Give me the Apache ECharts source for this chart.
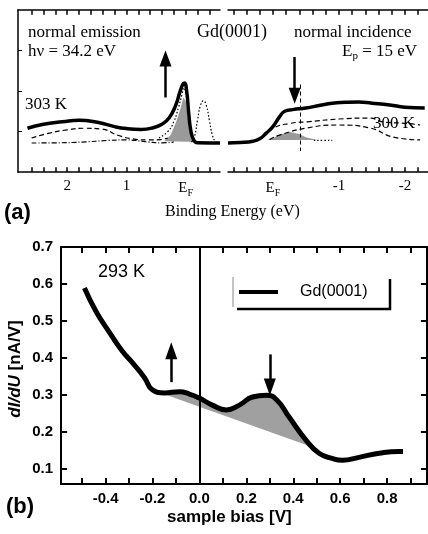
<!DOCTYPE html>
<html>
<head>
<meta charset="utf-8">
<script src="https://cdn.jsdelivr.net/npm/echarts@6/dist/echarts.min.js"></script>
<style>
  html, body { margin: 0; padding: 0; background: #fff; }
  #chart { width: 428px; height: 534px; }
</style>
</head>
<body>
<div id="chart"></div>
<script>
// ---- panel (a): [binding energy (eV), intensity (arb.)] ----
// left half: photoemission
const pe303 = [[2.67,27],[2.4,29.5],[2.08,31],[1.8,32],[1.47,30.5],[1.2,28],[1.0,26.8],[0.75,26.3],[0.55,27.3],
  [0.4,29.5],[0.28,33.3],[0.17,41],[0.1,49],[0.05,54],[0.02,55],[-0.02,49],[-0.05,37],[-0.09,25],[-0.14,19.5],
  [-0.2,18],[-0.42,17.9],[-0.58,17.9]];
const peDash = [[2.6,21],[2.3,24],[2.0,26],[1.7,27],[1.42,26.5],[1.13,22.5],[0.9,20.5],[0.63,19.8],[0.42,20],[0.3,21]];
const peDashDot = [[2.6,17.9],[2.2,18],[1.75,18.5],[1.3,19.5],[1.0,19.8],[0.63,18.5],[0.4,18],[0.2,18.5]];
const peDotEnv = [[0.45,21],[0.3,25],[0.2,31],[0.12,40],[0.06,48],[0.03,52],[0.0,49],[-0.04,40],[-0.08,28],[-0.12,21],[-0.2,18.5]];
const peDotPeak = [[-0.1,18.5],[-0.15,22],[-0.2,32],[-0.25,41],[-0.3,44],[-0.35,41],[-0.4,32],[-0.45,23],[-0.5,19],[-0.55,18]];
const peShade = [[0.36,19],[0.25,23],[0.15,32],[0.08,40],[0.04,46],[0.0,44],[-0.03,35],[-0.06,26],[-0.1,21],[-0.18,19],[-0.25,18.5]];
// right half: inverse photoemission
const ipeThick = [[0.68,17.9],[0.5,18.2],[0.3,19],[0.2,20.5],[0.1,24],[0.0,28],[-0.1,34],[-0.18,37.5],[-0.3,38.5],
  [-0.5,39.5],[-0.7,41],[-0.9,42.5],[-1.1,43],[-1.3,43.2],[-1.5,42.5],[-1.77,41.4],[-2.0,40],[-2.3,39.5]];
const ipe300 = [[0.15,21.6],[0.0,27],[-0.26,30],[-0.52,31],[-1.0,32.7],[-1.47,33.3],[-1.67,30.9],[-2.03,30],[-2.23,29]];
const ipeLow = [[0.05,20],[-0.1,22.8],[-0.52,27.2],[-1.0,29],[-1.47,27.2],[-1.82,21.6],[-2.23,19.8]];
const ipeDotTail = [[-0.62,19.5],[-0.9,19.5]];
const ipeShade = [[0.09,19.8],[0.0,21],[-0.1,23],[-0.26,24.7],[-0.4,23.5],[-0.5,21.5],[-0.67,19.8]];
const beTicksLeft = [2.6,2.4,2.2,2,1.8,1.6,1.4,1.2,1,0.8,0.6,0.4,0.2,0,-0.2,-0.4];
const beLabelsLeft = [2, 1, 0];
const beTicksRight = [0.6,0.4,0.2,0,-0.2,-0.4,-0.6,-0.8,-1,-1.2,-1.4,-1.6,-1.8,-2,-2.2];
const beLabelsRight = [0, -1, -2];
const intensityTicks = [25, 50, 75];

// ---- panel (b): [sample bias (V), dI/dU (nA/V)] ----
const sts = [[-0.49,0.589],[-0.44,0.525],[-0.383,0.469],[-0.33,0.42],[-0.285,0.387],[-0.234,0.347],[-0.2,0.314],
  [-0.149,0.306],[-0.085,0.309],[-0.043,0.303],[0,0.292],[0.055,0.273],[0.115,0.26],[0.17,0.273],[0.226,0.295],
  [0.285,0.30],[0.33,0.287],[0.383,0.24],[0.455,0.178],[0.51,0.143],[0.566,0.129],[0.61,0.124],[0.68,0.132],
  [0.766,0.143],[0.85,0.148],[0.868,0.148]];
const stsShade = [[-0.2,0.314],[-0.149,0.306],[-0.085,0.309],[-0.043,0.303],[0,0.292],[0.055,0.273],[0.115,0.26],
  [0.17,0.273],[0.226,0.295],[0.285,0.30],[0.33,0.287],[0.383,0.24],[0.455,0.178],[0.48,0.16]];
const biasTicks = [-0.5,-0.4,-0.3,-0.2,-0.1,0,0.1,0.2,0.3,0.4,0.5,0.6,0.7,0.8,0.9];
const biasLabels = [-0.4,-0.2,0,0.2,0.4,0.6,0.8];
const didvTicks = [0.1,0.2,0.3,0.4,0.5,0.6,0.7];

const SERIF = 'Liberation Serif';
const SANS = 'Liberation Sans';

const chart = echarts.init(document.getElementById('chart'));

function shade(points, xi, yi, color) {
  return {
    type: 'custom', xAxisIndex: xi, yAxisIndex: yi, silent: true, z: 1,
    data: [points[0]],
    renderItem: (params, api) => ({
      type: 'polygon',
      shape: { points: points.map(p => api.coord(p)) },
      style: { fill: color, stroke: null }
    })
  };
}

function curve(data, xi, yi, width, type, extra) {
  return Object.assign({
    type: 'line', xAxisIndex: xi, yAxisIndex: yi, data: data, smooth: true,
    symbol: 'none', silent: true, z: 3,
    lineStyle: { color: '#000', width: width, type: type }
  }, extra || {});
}

function arrow(x, y1, y2, size) {
  return [{ coord: [x, y1], symbol: 'none' }, { coord: [x, y2], symbol: 'triangle', symbolSize: size }];
}

// inward tick marks as short markLine segments; len is the tick length in data units of the other axis
function tickSegs(values, alongX, at, len, width) {
  return values.map(v => [
    { coord: alongX ? [v, at] : [at, v], symbol: 'none', lineStyle: { color: '#000', width: width, type: 'solid' } },
    { coord: alongX ? [v, at + len] : [at + len, v], symbol: 'none' }
  ]);
}

function marks(items) {
  return { silent: true, label: { show: false }, symbol: 'none', animation: false,
    lineStyle: { color: '#000', width: 2.5, type: 'solid' }, data: items };
}

const frame = { color: '#000', width: 1.5 };
const frameB = { color: '#000', width: 2 };
const beFmt = v => (v === 0 ? '{e|E}{f|F}' : String(v));
const beRich = { e: { fontFamily: SERIF, fontSize: 15, color: '#000' }, f: { fontFamily: SERIF, fontSize: 10, color: '#000', padding: [9, 0, 0, 0] } };

function axis(grid, min, max, pos, opts) {
  const o = Object.assign({ inverse: false, line: frame, labels: null, tickValues: null, label: {} }, opts);
  return {
    gridIndex: grid, type: 'value', inverse: o.inverse, min: min, max: max, position: pos,
    axisLine: { show: true, onZero: false, lineStyle: o.line },
    axisTick: o.tickValues ? { show: true, inside: true, length: 4, customValues: o.tickValues, lineStyle: { color: '#000', width: 1 } } : { show: false },
    axisLabel: o.labels ? Object.assign({ show: true, customValues: o.labels, color: '#000' }, o.label) : { show: false },
    splitLine: { show: false }
  };
}

const beLab = { formatter: beFmt, rich: beRich, fontFamily: SERIF, fontSize: 15, margin: 7 };
const bLab = { formatter: v => v.toFixed(1), fontFamily: SANS, fontWeight: 'bold', fontSize: 15, margin: 7 };

const option = {
  animation: false,
  backgroundColor: '#fff',
  grid: [
    { left: 18, top: 10, width: 202, height: 162 },
    { left: 228, top: 10, width: 200, height: 162 },
    { left: 61, top: 247, width: 366, height: 237 }
  ],
  xAxis: [
    axis(0, -0.58, 2.83, 'bottom', { inverse: true, labels: beLabelsLeft, label: beLab }),      // 0
    axis(0, -0.58, 2.83, 'top', { inverse: true }),                                             // 1
    axis(1, -2.35, 0.68, 'bottom', { inverse: true, labels: beLabelsRight, label: beLab }),     // 2
    axis(1, -2.35, 0.68, 'top', { inverse: true }),                                             // 3
    axis(2, -0.59, 0.97, 'bottom', { line: frameB, labels: biasLabels, label: bLab }),          // 4
    axis(2, -0.59, 0.97, 'top', { line: frameB })                                               // 5
  ],
  yAxis: [
    axis(0, 0, 100, 'left', { tickValues: intensityTicks }),                                    // 0
    { gridIndex: 1, type: 'value', min: 0, max: 100, show: false },                             // 1
    axis(2, 0.06, 0.7, 'left', { line: frameB, labels: didvTicks, label: Object.assign({}, bLab, { margin: 8 }) }), // 2
    axis(2, 0.06, 0.7, 'right', { line: frameB })                                              // 3
  ],
  series: [
    // panel (a) left
    shade(peShade, 0, 0, '#9a9a9a'),
    curve(peDash, 0, 0, 1.2, [5, 3], {
      markLine: marks([].concat(
        tickSegs(beTicksLeft, true, 0, 3, 1.5),
        tickSegs(beTicksLeft, true, 100, -3, 1.5)))
    }),
    curve(peDashDot, 0, 0, 1.2, [5, 2, 1, 2]),
    curve(peDotEnv, 0, 0, 1.2, [1.5, 2]),
    curve(peDotPeak, 0, 0, 1.2, [1.5, 2]),
    curve(pe303, 0, 0, 3.5, 'solid', {
      markLine: marks([arrow(0.34, 46, 70, [12, 16])])
    }),
    // panel (a) right
    shade(ipeShade, 2, 1, '#9a9a9a'),
    curve(ipe300, 2, 1, 1.2, [5, 3], {
      markLine: marks([].concat(
        tickSegs(beTicksRight, true, 0, 3, 1.5),
        tickSegs(beTicksRight, true, 100, -3, 1.5)))
    }),
    curve(ipeLow, 2, 1, 1.2, [5, 3]),
    curve(ipeDotTail, 2, 1, 1.2, [1.5, 2]),
    curve(ipeThick, 2, 1, 3.5, 'solid', {
      markLine: marks([
        arrow(-0.33, 71, 47, [12, 16]),
        [{ coord: [-0.42, 54], symbol: 'none', lineStyle: { width: 1, type: [4, 3] } },
         { coord: [-0.42, 13], symbol: 'none' }]
      ])
    }),
    // panel (b)
    shade(stsShade, 4, 2, '#a0a0a0'),
    curve(sts, 4, 2, 5, 'solid', {
      markLine: marks([].concat(
        [[{ coord: [0, 0.7], symbol: 'none', lineStyle: { width: 2 } }, { coord: [0, 0.06], symbol: 'none' }],
         arrow(-0.12, 0.335, 0.42, [12, 17]),
         arrow(0.3, 0.41, 0.322, [12, 17])],
        tickSegs(biasTicks, true, 0.06, 0.016, 2),
        tickSegs(biasTicks, true, 0.7, -0.016, 2),
        tickSegs(didvTicks, false, -0.59, 0.026, 2),
        tickSegs(didvTicks, false, 0.97, -0.026, 2)))
    })
  ],
  graphic: [
    { type: 'text', left: 28, top: 24, style: { text: 'normal emission', font: '17px "Liberation Serif"', fill: '#000' } },
    { type: 'text', left: 28, top: 43, style: { text: 'hν = 34.2 eV', font: '17px "Liberation Serif"', fill: '#000' } },
    { type: 'text', left: 197, top: 23, style: { text: 'Gd(0001)', font: '18px "Liberation Serif"', fill: '#000' } },
    { type: 'text', left: 294, top: 24, style: { text: 'normal incidence', font: '17px "Liberation Serif"', fill: '#000' } },
    { type: 'text', left: 342, top: 43, style: { rich: { n: { font: '17px "Liberation Serif"', fill: '#000' },
        s: { font: '11px "Liberation Serif"', fill: '#000', padding: [10, 0, 0, 0] } },
        text: '{n|E}{s|p}{n| = 15 eV}' } },
    { type: 'text', left: 25, top: 96, style: { text: '303 K', font: '17px "Liberation Serif"', fill: '#000' } },
    { type: 'text', left: 373, top: 115, style: { text: '300 K', font: '17px "Liberation Serif"', fill: '#000' } },
    { type: 'text', left: 4, top: 202, style: { text: '(a)', font: 'bold 22px "Liberation Sans"', fill: '#000' } },
    { type: 'text', left: 165, top: 204, style: { text: 'Binding Energy (eV)', font: '16px "Liberation Serif"', fill: '#000' } },
    // panel (b) annotations
    { type: 'text', left: 98, top: 263, style: { text: '293 K', font: '18px "Liberation Sans"', fill: '#000' } },
    { type: 'line', shape: { x1: 233, y1: 277, x2: 233, y2: 307 }, style: { stroke: '#888', lineWidth: 1 } },
    { type: 'polyline', shape: { points: [[237, 309], [390, 309], [390, 279]] }, style: { stroke: '#000', lineWidth: 2.5, fill: null } },
    { type: 'line', shape: { x1: 239, y1: 292, x2: 278, y2: 292 }, style: { stroke: '#000', lineWidth: 4 } },
    { type: 'text', left: 300, top: 284, style: { text: 'Gd(0001)', font: '16px "Liberation Sans"', fill: '#000' } },
    { type: 'text', left: 6, top: 496, style: { text: '(b)', font: 'bold 22px "Liberation Sans"', fill: '#000' } },
    { type: 'text', left: 167, top: 509, style: { text: 'sample bias [V]', font: 'bold 17px "Liberation Sans"', fill: '#000' } },
    { type: 'text', x: 15, y: 369, rotation: Math.PI / 2, style: {
        text: '{i|dI/dU} [nA/V]', font: 'bold 17px "Liberation Sans"', fill: '#000', align: 'center', verticalAlign: 'middle',
        rich: { i: { font: 'italic bold 17px "Liberation Sans"', fill: '#000' } } } }
  ]
};

chart.setOption(option);
</script>
</body>
</html>
